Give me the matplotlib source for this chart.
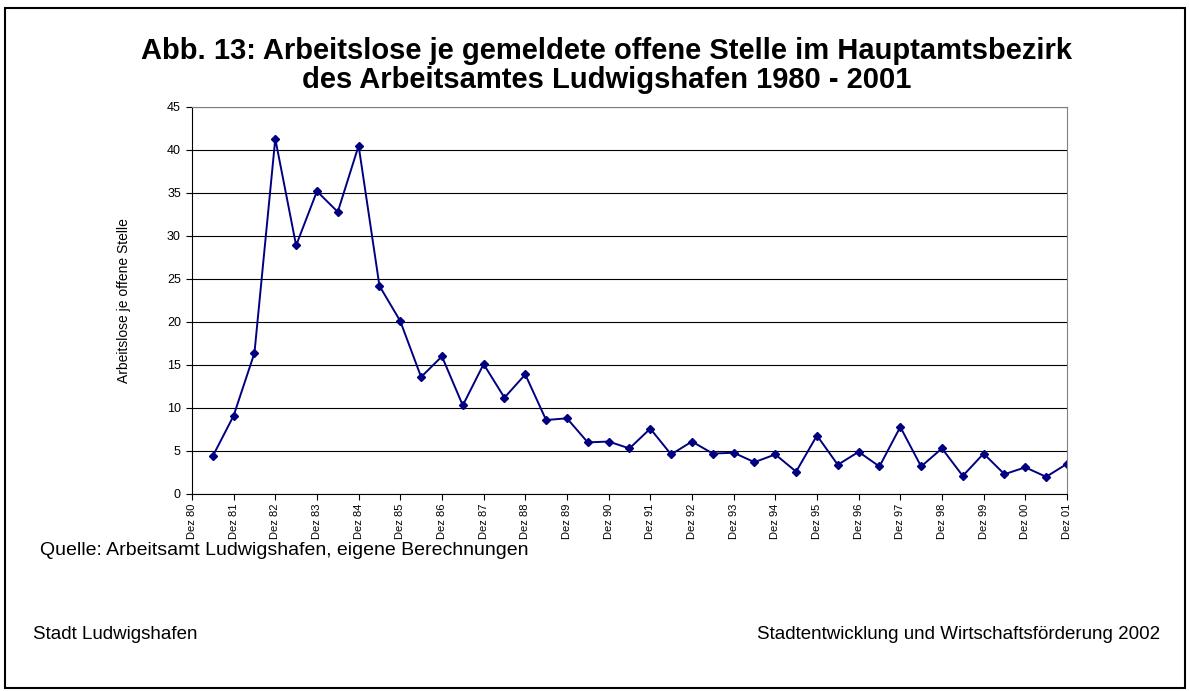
import matplotlib
matplotlib.use("Agg")
import matplotlib.pyplot as plt
from matplotlib.patches import Rectangle

plt.rcParams['font.family'] = ['Liberation Sans', 'DejaVu Sans']

# Halbjahreswerte Jun 81 ... Dez 01
werte = [4.4, 9.1, 16.4, 41.3, 28.9, 35.2, 32.8, 40.5, 24.2, 20.1,
         13.6, 16.0, 10.3, 15.1, 11.2, 13.9, 8.6, 8.8, 6.0, 6.1,
         5.3, 7.6, 4.6, 6.1, 4.7, 4.8, 3.7, 4.6, 2.6, 6.8,
         3.4, 4.9, 3.2, 7.8, 3.2, 5.3, 2.1, 4.7, 2.3, 3.1,
         2.0, 3.5]
jahre = ["80", "81", "82", "83", "84", "85", "86", "87", "88", "89", "90",
         "91", "92", "93", "94", "95", "96", "97", "98", "99", "00", "01"]
tick_labels = ["Dez " + j for j in jahre]

x = list(range(1, len(werte) + 1))

fig = plt.figure(figsize=(11.9, 6.91), dpi=100)
ax = fig.add_axes([0.1613, 0.2851, 0.7353, 0.5601])

ax.plot(x, werte, color="#000080", lw=1.4, marker="D", ms=4.2,
        markerfacecolor="#000080", markeredgecolor="#000080")

ax.set_xlim(0, 42)
ax.set_ylim(0, 45)
ax.set_yticks(range(0, 46, 5))
ax.set_xticks(range(0, 43, 2))
ax.set_xticklabels(tick_labels, rotation=90, fontsize=8)
ax.tick_params(axis="y", labelsize=9, length=4, direction="out", pad=4)
ax.tick_params(axis="x", length=4, direction="out", pad=3)
ax.yaxis.grid(True, color="black", lw=0.8)
ax.set_axisbelow(True)
ax.spines["right"].set_color("#808080")
ax.spines["top"].set_color("#808080")
ax.spines["left"].set_color("black")
ax.spines["bottom"].set_color("black")
ax.set_ylabel("Arbeitslose je offene Stelle", fontsize=10, labelpad=26)

fig.text(0.51, 0.905, "Abb. 13: Arbeitslose je gemeldete offene Stelle im Hauptamtsbezirk\ndes Arbeitsamtes Ludwigshafen 1980 - 2001",
         ha="center", va="center", fontsize=21, fontweight="bold", linespacing=1.03)
fig.text(0.034, 0.203, "Quelle: Arbeitsamt Ludwigshafen, eigene Berechnungen",
         ha="left", va="center", fontsize=14)
fig.text(0.028, 0.082, "Stadt Ludwigshafen", ha="left", va="center", fontsize=13.5)
fig.text(0.975, 0.082, "Stadtentwicklung und Wirtschaftsförderung 2002",
         ha="right", va="center", fontsize=13.5)

fig.patches.append(Rectangle((0.004, 0.004), 0.992, 0.985, transform=fig.transFigure,
                             fill=False, edgecolor="black", lw=1.5))

fig.savefig("out.png", dpi=100)
